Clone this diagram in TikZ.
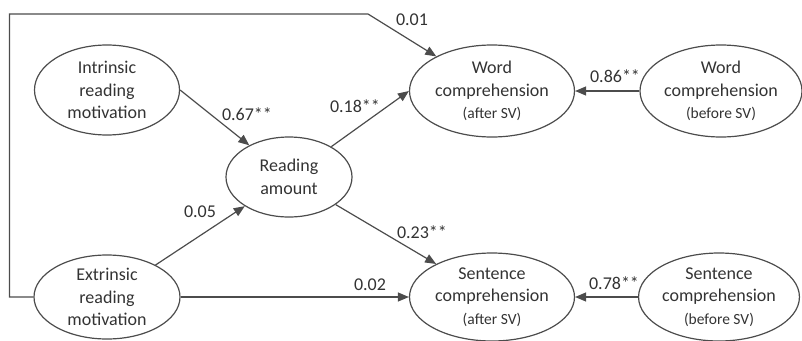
\documentclass[tikz,border=0pt]{standalone}
\usepackage{fontspec}
\setmainfont{Carlito}
\usepackage{tikz}
\usetikzlibrary{arrows.meta,shapes.geometric}

\begin{document}
\begin{tikzpicture}[x=1pt,y=-1pt,
		latent/.style={draw=black!70,ellipse,line width=1.2pt,inner sep=0pt,align=center,
			text=black!80,font=\fontsize{18}{22.5}\selectfont},
		path/.style={draw=black!70,line width=1.2pt,-{Triangle[length=11pt,width=9pt]}},
		coef/.style={text=black!80,font=\fontsize{18}{20}\selectfont,inner sep=0pt},
		small/.style={}]
		\useasboundingbox (0,0) rectangle (802,340);
		% latent variables
		\node[latent,minimum width=145,minimum height=90] (intr) at (107,90) {Intrinsic\\reading\\motivation};
		\node[latent,minimum width=126,minimum height=80] (ramt) at (289,177) {Reading\\amount};
		\node[latent,minimum width=146,minimum height=84] (extr) at (107,297) {Extrinsic\\reading\\motivation};
		\node[latent,minimum width=165,minimum height=92] (wafter) at (492,91) {Word\\comprehension\\{\fontsize{15.5}{22}\selectfont(after SV)}};
		\node[latent,minimum width=162,minimum height=92] (wbefore) at (721,91) {Word\\comprehension\\{\fontsize{15.5}{22}\selectfont(before SV)}};
		\node[latent,minimum width=165,minimum height=88] (safter) at (492,297) {Sentence\\comprehension\\{\fontsize{15.5}{22}\selectfont(after SV)}};
		\node[latent,minimum width=158,minimum height=88] (sbefore) at (719,297) {Sentence\\comprehension\\{\fontsize{15.5}{22}\selectfont(before SV)}};
		\coordinate (bend) at (368,14);
		% paths
		\draw[path] (intr.east) -- (ramt);
		\draw[path] (extr) -- (ramt);
		\draw[path] (ramt) -- (wafter.west);
		\draw[path] (ramt) -- (safter);
		\draw[path] (extr.east) -- (safter.west);
		\draw[path] (wbefore.west) -- (wafter.east);
		\draw[path] (sbefore.west) -- (safter.east);
		\draw[path] (extr.west) -- ++(-24,0) |- (bend) -- (wafter);
		% coefficients
		\node[coef] (c01) at (412,20) {0.01};
		\node[coef] (c86) at (615,76) {0.86**};
		\node[coef] (c67) at (247,114) {0.67**};
		\node[coef] (c18) at (355,106) {0.18**};
		\node[coef] (c05) at (200,212) {0.05};
		\node[coef] (c23) at (422,232) {0.23**};
		\node[coef] (c02) at (370,285) {0.02};
		\node[coef] (c78) at (614,283) {0.78**};
	\end{tikzpicture}
\end{document}
